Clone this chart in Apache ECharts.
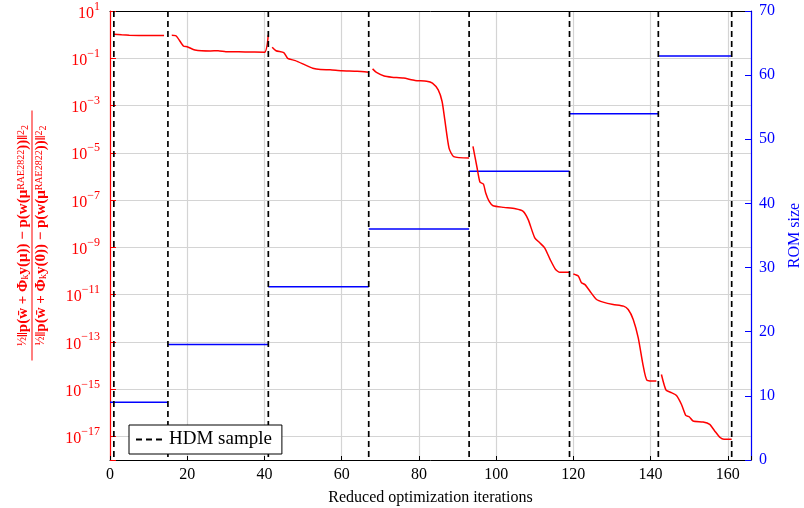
<!DOCTYPE html>
<html>
<head>
<meta charset="utf-8">
<script src="https://cdn.jsdelivr.net/npm/echarts@6/dist/echarts.min.js"></script>
<style>
  html, body { margin: 0; padding: 0; background: #fff; }
  #chart { width: 804px; height: 508px; }
</style>
</head>
<body>
<div id="chart"></div>
<script>
// HDM samples and ROM size per optimization cycle
const sampleIters = [1, 15, 41, 67, 93, 119, 142, 161]
const romFrom = [0, 15, 41, 67, 93, 119, 142]
const romTo = [15, 41, 67, 93, 119, 142, 161]
const romSizes = [9, 18, 27, 36, 45, 54, 63]

// relative misfit, stored as log10 ; null = gap between cycles
const residualIters = [
  1, 3, 5, 10, 14, null,
  16, 17, 19, 20, 22, 26, 28, 30, 35, 40, 41, null,
  42, 43, 45, 46, 48, 50.5, 52.5, 54.5, 57, 60, 64, 67, null,
  68, 69, 71, 73, 76, 79, 82, 83.5, 85, 86, 86.7, 87.8, 89, 93, null,
  94, 95, 95.8, 96.7, 97.3, 98.2, 99.2, 102, 105, 107, 108.3, 110, 111.3, 112.6, 114, 115.4, 116.5, 119, null,
  120, 121.3, 122.1, 123, 124.3, 126, 127.7, 130.3, 133, 134.2, 135.5, 136.8, 138.1, 139.1, 141.5, null,
  142.8, 144, 145.4, 146.7, 148, 149.1, 150, 151, 153.6, 155.3, 156.6, 158, 159, 161,
]
const residualLog10 = [
  0.02, -0.01, -0.03, -0.04, -0.04, null,
  -0.03, -0.04, -0.48, -0.51, -0.65, -0.69, -0.68, -0.72, -0.73, -0.75, -0.01, null,
  -0.53, -0.68, -0.76, -1.0, -1.1, -1.28, -1.42, -1.48, -1.49, -1.53, -1.55, -1.59, null,
  -1.45, -1.6, -1.75, -1.8, -1.84, -1.94, -1.97, -2.05, -2.34, -2.83, -3.6, -4.8, -5.16, -5.22, null,
  -4.73, -5.58, -6.24, -6.32, -6.7, -7.06, -7.24, -7.31, -7.37, -7.48, -7.83, -8.6, -8.81, -9.03, -9.52, -9.94, -10.06, -10.06, null,
  -10.13, -10.22, -10.5, -10.58, -10.86, -11.21, -11.32, -11.42, -11.49, -11.63, -12.05, -12.83, -14.03, -14.63, -14.66, null,
  -14.38, -15.04, -15.15, -15.27, -15.65, -16.11, -16.17, -16.35, -16.39, -16.49, -16.77, -17.05, -17.12, -17.12,
]

// axis ranges (decades of the left log axis)
const logTop = 1
const logBottom = -18
const xMax = 166
const romMax = 70

const FONT = 'Liberation Serif'
const RED = '#ff0000'
const BLUE = '#0000ff'
const GRID = '#d4d4d4'

// left axis is drawn as -log10 on an inverted value axis so ticks land on odd decades
const residualData = residualIters.map((x, i) =>
  residualLog10[i] === null ? [residualIters[i - 1], '-'] : [x, -residualLog10[i]])

const romData = []
romSizes.forEach((s, i) => {
  romData.push([romFrom[i], s], [romTo[i], s], [romTo[i], '-'])
})

const hdmData = []
sampleIters.forEach((x) => {
  hdmData.push([x, -logTop], [x, -logBottom], [x, '-'])
})

function logLabel(u) {
  if (Math.abs(u) % 2 !== 1) return ''
  const e = -u
  return '{b|10}{s|' + (e < 0 ? '\u2212' + (-e) : e) + '}'
}

const fracNum = '{h|\u00bd}{n|\u2016p(w\u0304 + \u03a6}{sb|k}{n|y(\u03bc)) \u2212 p(w(\u03bc}{sp|RAE2822}{n|))\u2016}{sp|2}{sb|2}'
const fracDen = '{h|\u00bd}{n|\u2016p(w\u0304 + \u03a6}{sb|k}{n|y(0)) \u2212 p(w(\u03bc}{sp|RAE2822}{n|))\u2016}{sp|2}{sb|2}'

const chart = echarts.init(document.getElementById('chart'))
chart.setOption({
  animation: false,
  textStyle: { fontFamily: FONT },
  grid: { left: 110, right: 53, top: 11, bottom: 48, containLabel: false, outerBoundsMode: 'none' },
  legend: {
    data: ['HDM sample'],
    left: 129,
    top: 425,
    orient: 'horizontal',
    backgroundColor: '#fff',
    borderColor: '#000',
    borderWidth: 1,
    borderRadius: 0,
    padding: [5, 10, 5, 6],
    itemWidth: 28,
    itemHeight: 10,
    itemStyle: { color: 'rgba(0,0,0,0)', borderWidth: 0 },
    textStyle: { fontFamily: FONT, fontSize: 19, color: '#000' },
  },
  xAxis: [{
    type: 'value',
    min: 0,
    max: xMax,
    interval: 20,
    name: 'Reduced optimization iterations',
    nameLocation: 'middle',
    nameGap: 30,
    nameTextStyle: { fontFamily: FONT, fontSize: 16, color: '#000' },
    axisLine: { onZero: false, lineStyle: { color: '#000', width: 1 } },
    axisTick: { inside: true, length: 4, lineStyle: { color: '#000' } },
    axisLabel: {
      margin: 7,
      fontFamily: FONT,
      fontSize: 16,
      color: '#000',
      formatter: (v) => (v % 20 === 0 ? String(v) : ''),
    },
    splitLine: { show: true, lineStyle: { color: GRID, width: 1.2 } },
  }, {
    type: 'value',
    position: 'top',
    min: 0,
    max: xMax,
    interval: 20,
    axisLine: { show: true, onZero: false, lineStyle: { color: '#000', width: 1 } },
    axisTick: { show: false },
    axisLabel: { show: false },
    splitLine: { show: false },
  }],
  yAxis: [{
    type: 'value',
    inverse: true,
    min: -logTop,
    max: -logBottom,
    interval: 2,
    position: 'left',
    name: fracNum + '\n{bar| }\n' + fracDen,
    nameLocation: 'middle',
    nameRotate: 90,
    nameGap: 62,
    nameTextStyle: {
      color: RED,
      fontFamily: FONT,
      rich: {
        h: { fontSize: 12, color: RED, fontFamily: FONT, lineHeight: 14 },
        n: { fontSize: 15, fontWeight: 'bold', color: RED, fontFamily: FONT, lineHeight: 14 },
        sb: { fontSize: 10, color: RED, fontFamily: FONT, verticalAlign: 'bottom', lineHeight: 14 },
        sp: { fontSize: 10, color: RED, fontFamily: FONT, verticalAlign: 'top', lineHeight: 14 },
        bar: { width: 250, height: 1, backgroundColor: RED, lineHeight: 4, fontSize: 1 },
      },
    },
    axisLine: { show: true, onZero: false, lineStyle: { color: RED, width: 1.2 } },
    axisTick: { inside: true, length: 6, lineStyle: { color: RED } },
    axisLabel: {
      margin: 10,
      formatter: logLabel,
      rich: {
        b: { fontSize: 16, color: RED, fontFamily: FONT, verticalAlign: 'bottom', lineHeight: 21 },
        s: { fontSize: 12, color: RED, fontFamily: FONT, verticalAlign: 'top', lineHeight: 21 },
      },
    },
    splitLine: { show: true, lineStyle: { color: GRID, width: 1.2 } },
  }, {
    type: 'value',
    min: 0,
    max: romMax,
    interval: 10,
    position: 'right',
    name: 'ROM size',
    nameLocation: 'middle',
    nameRotate: 90,
    nameGap: 36,
    nameTextStyle: { color: BLUE, fontFamily: FONT, fontSize: 16 },
    axisLine: { show: true, onZero: false, lineStyle: { color: BLUE, width: 1.2 } },
    axisTick: { inside: true, length: 6, lineStyle: { color: BLUE } },
    axisLabel: { color: BLUE, fontFamily: FONT, fontSize: 16, margin: 8 },
    splitLine: { show: false },
  }],
  series: [{
    name: 'ROM size',
    type: 'line',
    yAxisIndex: 1,
    data: romData,
    showSymbol: false,
    symbol: 'none',
    connectNulls: false,
    lineStyle: { color: BLUE, width: 1.5 },
  }, {
    name: 'residual',
    type: 'line',
    yAxisIndex: 0,
    data: residualData,
    showSymbol: false,
    symbol: 'none',
    smooth: 0.2,
    connectNulls: false,
    lineStyle: { color: RED, width: 1.5 },
  }, {
    name: 'HDM sample',
    type: 'line',
    yAxisIndex: 0,
    data: hdmData,
    showSymbol: false,
    symbol: 'none',
    connectNulls: false,
    itemStyle: { color: '#000' },
    lineStyle: { color: '#000', width: 1.7, type: [6, 4] },
  }],
})
</script>
</body>
</html>
